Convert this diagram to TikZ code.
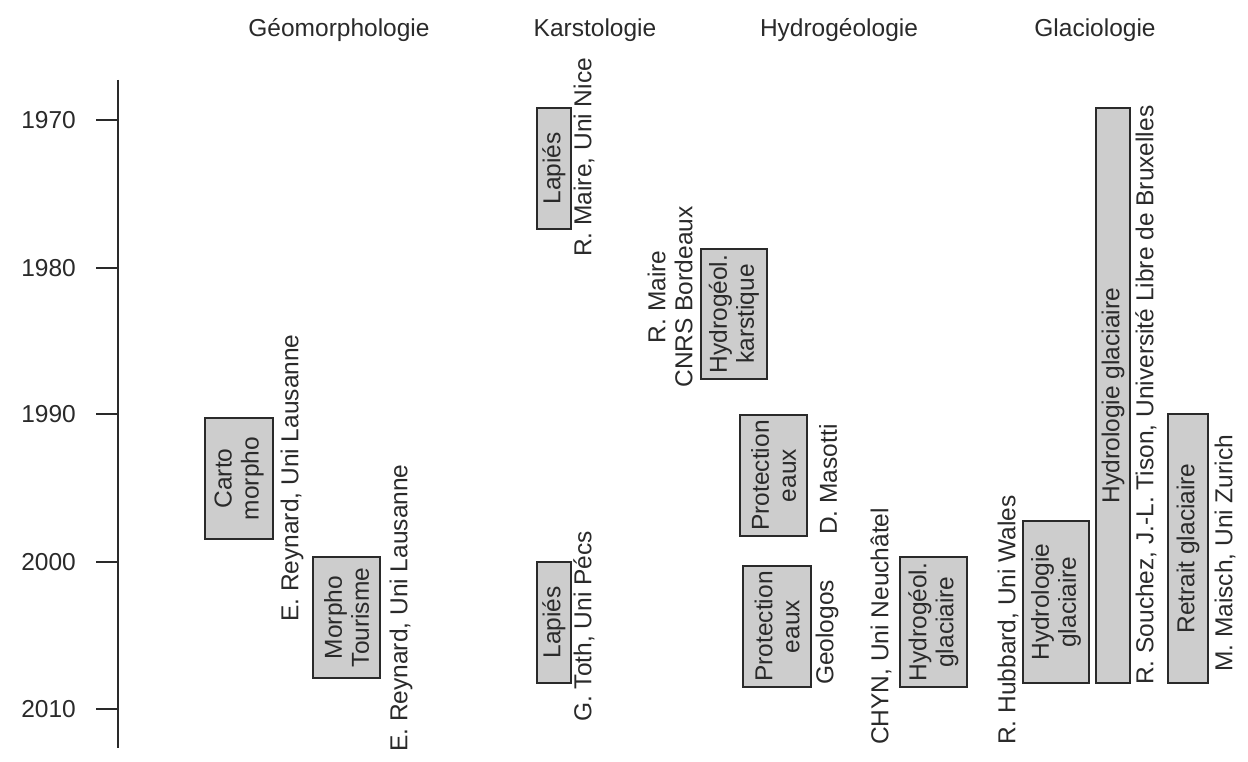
\documentclass[tikz,border=0pt]{standalone}
\usepackage{fontspec}
\setmainfont{Liberation Sans}
\definecolor{boxfill}{HTML}{CDCDCD}
\definecolor{ink}{HTML}{2A2A2A}
\tikzset{
  every node/.style={font=\fontsize{24.5}{27}\selectfont, text=ink},
  databox/.style={draw=ink, line width=2.4pt, fill=boxfill, rotate=90, inner sep=0pt, align=center},
  lab/.style={rotate=90, anchor=west, inner sep=0pt},
  head/.style={inner sep=0pt},
  yr/.style={anchor=east, inner sep=0pt},
}
\begin{document}
\begin{tikzpicture}[x=1pt,y=-1pt]
\useasboundingbox[fill=white] (0,0) rectangle (1248,762);
% axis
\coordinate (atop) at (118,80);
\coordinate (abot) at (118,748);
\draw[ink, line width=2.2pt] (atop) -- (abot);
\foreach \yv/\lab/\nm in {120/1970/a, 268/1980/b, 414/1990/c, 562/2000/d, 709/2010/e}{
  \coordinate (t\nm) at (118,\yv);
  \coordinate (s\nm) at (96,\yv);
  \draw[ink, line width=2pt] (s\nm) -- (t\nm);
  \node[yr] (y\nm) at (76,\yv) {\lab};
}
% headings
\node[head] (hgeo) at (339,30) {Géomorphologie};
\node[head] (hkar) at (595,30) {Karstologie};
\node[head] (hhyd) at (839,30) {Hydrogéologie};
\node[head] (hgla) at (1095,30) {Glaciologie};
% boxes
\node[databox, minimum width=121, minimum height=68] (carto) at (239,478.5) {Carto\\morpho};
\node[databox, minimum width=121, minimum height=67] (tour) at (346.5,617.5) {Morpho\\Tourisme};
\node[databox, minimum width=121, minimum height=34] (lap1) at (554,168.5) {Lapiés};
\node[databox, minimum width=121, minimum height=34] (lap2) at (554,622.5) {Lapiés};
\node[databox, minimum width=130, minimum height=66] (hkarst) at (734,314) {Hydrogéol.\\karstique};
\node[databox, minimum width=121, minimum height=67] (prot1) at (773.5,475.5) {Protection\\eaux};
\node[databox, minimum width=121, minimum height=68] (prot2) at (777,626.5) {Protection\\eaux};
\node[databox, minimum width=130, minimum height=67] (hglac) at (933.5,622) {Hydrogéol.\\glaciaire};
\node[databox, minimum width=162, minimum height=66] (hyds) at (1056,602) {Hydrologie\\glaciaire};
\node[databox, minimum width=575, minimum height=34] (hydt) at (1113,395.5) {Hydrologie glaciaire};
\node[databox, minimum width=269, minimum height=40] (retr) at (1188,548.5) {Retrait glaciaire};
% labels
\node[lab] (rey1) at (292,622) {E. Reynard, Uni Lausanne};
\node[lab] (rey2) at (401,752) {E. Reynard, Uni Lausanne};
\node[lab] (mnice) at (584,257) {R. Maire, Uni Nice};
\node[lab] (toth) at (584,722) {G. Toth, Uni Pécs};
\node[rotate=90, inner sep=0pt, align=center] (mcnrs) at (670,297) {R. Maire\\CNRS Bordeaux};
\node[lab] (maso) at (828,535) {D. Masotti};
\node[lab] (geol) at (827,685) {Geologos};
\node[lab] (chyn) at (881,745) {CHYN, Uni Neuchâtel};
\node[lab] (hubb) at (1008,745) {R. Hubbard, Uni Wales};
\node[lab] (souc) at (1146,685) {R. Souchez, J.-L. Tison, Université Libre de Bruxelles};
\node[lab] (mais) at (1225,672) {M. Maisch, Uni Zurich};
\end{tikzpicture}
\end{document}
